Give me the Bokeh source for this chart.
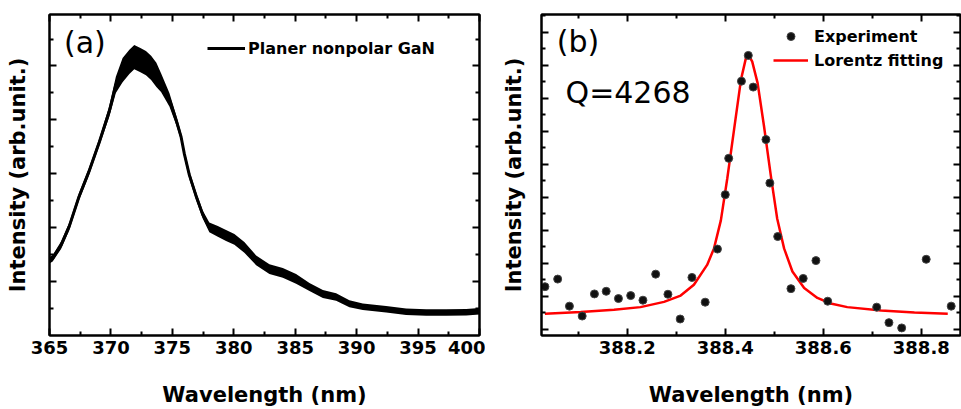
from bokeh.plotting import figure
from bokeh.models import (FixedTicker, LinearAxis, Legend, LegendItem, Label,
                          Range1d, PrintfTickFormatter, CustomJSTickFormatter)
from bokeh.layouts import row
from bokeh.embed import file_html
from bokeh.resources import INLINE

# ---------------- data (a): PL spectrum ----------------
wl_a = [365.0, 365.26, 365.94, 366.6, 367.4, 368.2, 369.05, 369.86, 370.4, 370.95,
        371.5, 371.9, 372.4, 372.85, 373.27, 373.7, 374.08, 374.76, 375.3, 375.7,
        375.98, 376.38, 376.93, 377.47, 378.01, 378.7, 379.37, 380.05, 380.86, 381.82,
        382.9, 383.99, 385.07, 386.16, 387.25, 388.33, 389.41, 390.5, 392.4, 394.03,
        395.66, 397.29, 398.92, 400.0]
int_a = [2.79, 2.87, 3.35, 4.04, 5.15, 6.07, 7.17, 8.31, 9.30, 9.85,
         10.15, 10.33, 10.22, 10.11, 9.93, 9.67, 9.38, 8.75, 8.01, 7.39,
         6.73, 5.96, 5.18, 4.49, 4.01, 3.86, 3.71, 3.57, 3.27, 2.79,
         2.46, 2.32, 2.10, 1.80, 1.54, 1.43, 1.18, 1.07, 0.97, 0.88,
         0.85, 0.85, 0.86, 0.90]
noise_a = [0.12, 0.12, 0.14, 0.14, 0.14, 0.14, 0.14, 0.2, 0.3, 0.45,
           0.45, 0.45, 0.45, 0.45, 0.45, 0.45, 0.35, 0.25, 0.18, 0.15,
           0.15, 0.15, 0.15, 0.15, 0.18, 0.2, 0.2, 0.2, 0.2, 0.18,
           0.18, 0.18, 0.18, 0.15, 0.15, 0.14, 0.13, 0.12, 0.12, 0.12,
           0.12, 0.12, 0.12, 0.12]
ticks_a_x = [365, 370, 375, 380, 385, 390, 395, 400]
minor_a_x = [367.5, 372.5, 377.5, 382.5, 387.5, 392.5, 397.5]
ticks_a_y = [2, 4, 6, 8, 10]
minor_a_y = [1, 3, 5, 7, 9, 11]

# ---------------- data (b): cavity mode ----------------
exp_wl = [388.032, 388.058, 388.082, 388.108, 388.133, 388.157, 388.182, 388.207,
          388.232, 388.258, 388.283, 388.308, 388.332, 388.359, 388.384, 388.400,
          388.407, 388.433, 388.447, 388.457, 388.483, 388.491, 388.507, 388.534,
          388.559, 388.585, 388.609, 388.709, 388.734, 388.760, 388.810, 388.861]
exp_int = [1.29, 1.52, 0.70, 0.40, 1.07, 1.15, 0.93, 1.02,
           0.88, 1.67, 1.06, 0.31, 1.57, 0.82, 2.43, 4.08,
           5.18, 7.52, 8.30, 7.34, 5.75, 4.43, 2.81, 1.23,
           1.54, 2.08, 0.85, 0.67, 0.20, 0.04, 2.12, 0.70]
fit_wl = [388.032, 388.105, 388.173, 388.227, 388.275, 388.309, 388.336, 388.363,
          388.377, 388.391, 388.404, 388.418, 388.432, 388.442, 388.447, 388.455,
          388.466, 388.479, 388.493, 388.506, 388.520, 388.537, 388.561, 388.588,
          388.615, 388.649, 388.718, 388.786, 388.854]
fit_int = [0.47, 0.52, 0.59, 0.67, 0.83, 1.02, 1.35, 1.95,
           2.45, 3.30, 4.56, 6.06, 7.56, 8.21, 8.33, 8.11,
           7.46, 6.16, 4.65, 3.35, 2.45, 1.75, 1.25, 0.95,
           0.78, 0.67, 0.57, 0.51, 0.47]
ticks_b_x = [388.2, 388.4, 388.6, 388.8]
minor_b_x = [388.1, 388.3, 388.5, 388.7]
ticks_b_y = [0, 1, 2, 3, 4, 5, 6, 7, 8, 9]
minor_b_y = [0.5, 1.5, 2.5, 3.5, 4.5, 5.5, 6.5, 7.5, 8.5, 9.5]

FONT = "DejaVu Sans"


def style_axis(ax, xt, xm, show_labels, fmt=None):
    ax.ticker = FixedTicker(ticks=xt, minor_ticks=xm)
    ax.axis_line_width = 2
    ax.axis_line_color = "black"
    ax.major_tick_in = 7
    ax.major_tick_out = 0
    ax.minor_tick_in = 4
    ax.minor_tick_out = 0
    ax.major_tick_line_width = 2
    ax.minor_tick_line_width = 2
    ax.major_tick_line_color = "black"
    ax.minor_tick_line_color = "black"
    ax.major_label_text_font = FONT
    ax.major_label_text_font_style = "bold"
    ax.major_label_text_color = "black"
    ax.major_label_text_font_size = "18px"
    if show_labels:
        ax.major_label_standoff = 5
        if fmt:
            ax.formatter = PrintfTickFormatter(format=fmt)
    else:
        ax.major_label_standoff = 0
        ax.formatter = CustomJSTickFormatter(code="return ''")
    ax.axis_label_text_font = FONT
    ax.axis_label_text_font_style = "bold"
    ax.axis_label_text_font_size = "21px"
    ax.axis_label_text_color = "black"


def make_fig(w, xr, yr, bl, br):
    p = figure(width=w, height=409, x_range=xr, y_range=yr,
               output_backend="svg", toolbar_location=None,
               min_border_left=bl, min_border_right=br,
               min_border_top=14, min_border_bottom=71)
    p.grid.visible = False
    p.outline_line_color = "black"
    p.outline_line_width = 2
    p.background_fill_color = "white"
    p.border_fill_color = "white"
    return p


# ---------------- panel (a) ----------------
p1 = make_fig(485, Range1d(365, 400), Range1d(0, 11.91), 49, 6)
lo = [c - n for c, n in zip(int_a, noise_a)]
hi = [c + n for c, n in zip(int_a, noise_a)]
p1.varea(x=wl_a, y1=lo, y2=hi, fill_color="black")
l1 = p1.line(wl_a, int_a, line_width=3, line_color="black")

style_axis(p1.below[0], ticks_a_x, minor_a_x, True, "%d")
p1.below[0].axis_label = "Wavelength (nm)"
p1.below[0].axis_label_standoff = 26
style_axis(p1.left[0], ticks_a_y, minor_a_y, False)
p1.left[0].axis_label = "Intensity (arb.unit.)"
p1.left[0].axis_label_standoff = 20
ax = LinearAxis()
style_axis(ax, ticks_a_y, minor_a_y, False)
p1.add_layout(ax, "right")
ax = LinearAxis()
style_axis(ax, ticks_a_x, minor_a_x, False)
p1.add_layout(ax, "above")

leg1 = Legend(items=[LegendItem(label="Planer nonpolar GaN", renderers=[l1])],
              location=(158, 277), padding=0, margin=0, border_line_color=None,
              background_fill_alpha=0, glyph_width=38, glyph_height=20,
              label_standoff=3, label_text_font=FONT, label_text_font_style="bold",
              label_text_font_size="16px", label_text_color="black")
p1.add_layout(leg1)
p1.add_layout(Label(x=366.18, y=10.88, text="(a)", text_font=FONT, text_color="black",
                    text_font_size="30px", text_baseline="middle", text_align="left"))

# ---------------- panel (b) ----------------
p2 = make_fig(476, Range1d(388.025, 388.88), Range1d(-0.19, 9.54), 56, 1)
lf = p2.line(fit_wl, fit_int, line_width=2.5, line_color="#ff0000")
sc = p2.scatter(exp_wl, exp_int, size=8, fill_color="#111111", line_color="#444444",
                line_width=1)

style_axis(p2.below[0], ticks_b_x, minor_b_x, True, "%.1f")
p2.below[0].axis_label = "Wavelength (nm)"
p2.below[0].axis_label_standoff = 26
style_axis(p2.left[0], ticks_b_y, minor_b_y, False)
p2.left[0].axis_label = "Intensity (arb.unit.)"
p2.left[0].axis_label_standoff = 16
ax = LinearAxis()
style_axis(ax, ticks_b_y, minor_b_y, False)
p2.add_layout(ax, "right")
ax = LinearAxis()
style_axis(ax, ticks_b_x, minor_b_x, False)
p2.add_layout(ax, "above")

leg2 = Legend(items=[LegendItem(label="Experiment", renderers=[sc]),
                     LegendItem(label="Lorentz fitting", renderers=[lf])],
              location=(232, 265), padding=0, margin=0, border_line_color=None,
              background_fill_alpha=0, glyph_width=35, glyph_height=20, spacing=4,
              label_standoff=6, label_text_font=FONT, label_text_font_style="bold",
              label_text_font_size="16px", label_text_color="black")
p2.add_layout(leg2)
p2.add_layout(Label(x=388.056, y=8.73, text="(b)", text_font=FONT, text_color="black",
                    text_font_size="30px", text_baseline="middle", text_align="left"))
p2.add_layout(Label(x=388.074, y=7.17, text="Q=4268", text_font=FONT, text_color="black",
                    text_font_size="30px", text_baseline="middle", text_align="left"))

layout = row(p1, p2)
open("out.html", "w").write(file_html(layout, INLINE))
